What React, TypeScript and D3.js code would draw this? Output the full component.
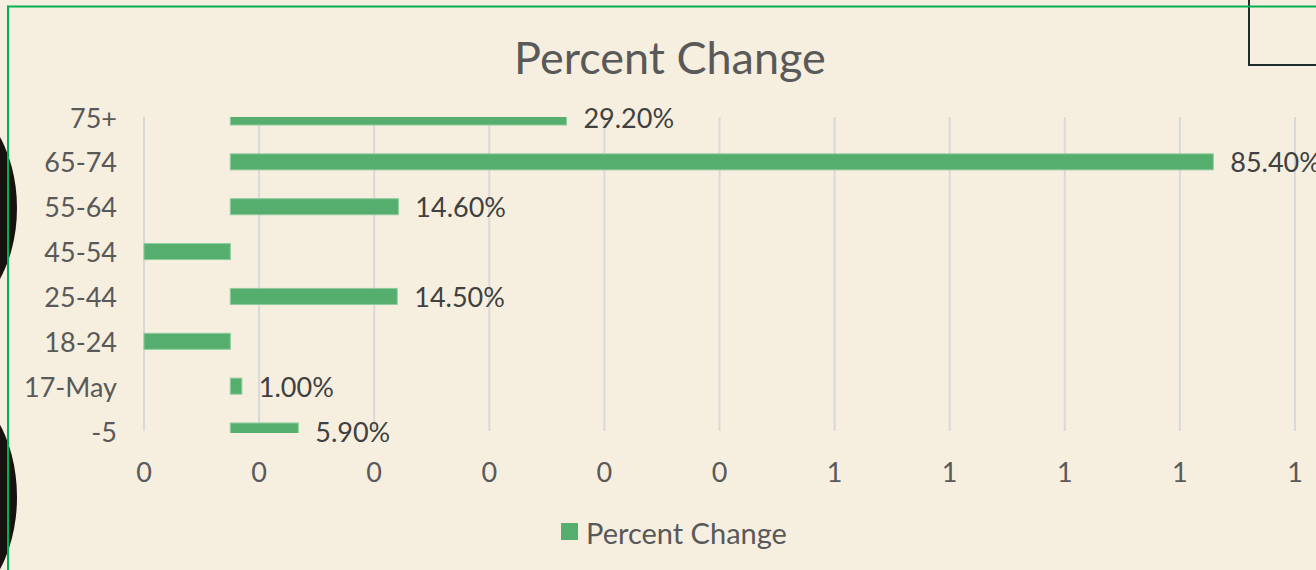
import React from "react";
import * as d3 from "d3";

const categories = ["75+", "65-74", "55-64", "45-54", "25-44", "18-24", "17-May", "-5"];
const percentChange = [0.292, 0.854, 0.146, -0.118, 0.145, -0.132, 0.01, 0.059];
const tickValues = [-0.075, 0.025, 0.125, 0.225, 0.325, 0.425, 0.525, 0.625, 0.725, 0.825, 0.925];
const tickLabels = ["0", "0", "0", "0", "0", "0", "1", "1", "1", "1", "1"];
const title = "Percent Change";
const seriesName = "Percent Change";

const W = 1316;
const H = 570;
const FONT = "Lato, 'Open Sans', sans-serif";
const BG = "#F6EFDF";
const BAR = "#55AE6E";

export default function App() {
  const plot = { left: 144, right: 1295, top: 117, bottom: 431 };
  const x = d3.scaleLinear().domain([-0.075, 0.925]).range([plot.left, plot.right]).clamp(true);
  const y = d3.scalePoint<string>().domain(categories).range([plot.top, plot.bottom]);
  const barH = 16;
  const fmt = d3.format(".2%");

  return (
    <div>
      <style>{`body{margin:0;background:${BG}}`}</style>
      <svg width={W} height={H} style={{ display: "block", fontFamily: FONT }}>
        <defs>
          <clipPath id="plotClip">
            <rect x={0} y={plot.top} width={W} height={plot.bottom - plot.top + 2} />
          </clipPath>
        </defs>
        <rect x={0} y={0} width={W} height={H} fill={BG} />
        <ellipse cx={-55} cy={208} rx={72} ry={110} fill="#151210" />
        <ellipse cx={-55} cy={497} rx={72} ry={112} fill="#151210" />
        <path d={`M1249,0 V65 H${W}`} fill="none" stroke="#1E2B2B" strokeWidth={2} />
        <path d={`M8,${H + 5} V6.5 H${W + 5}`} fill="none" stroke="#00B050" strokeWidth={2} />

        <text x={670} y={57} textAnchor="middle" dominantBaseline="central" fontSize={45} fill="#595959">
          {title}
        </text>

        {tickValues.map((t, i) => (
          <g key={i}>
            <line x1={x(t)} x2={x(t)} y1={plot.top} y2={plot.bottom} stroke="#D9D9D9" strokeWidth={2} />
            <text x={x(t)} y={471} textAnchor="middle" dominantBaseline="central" fontSize={27} fill="#595959">
              {tickLabels[i]}
            </text>
          </g>
        ))}

        <g clipPath="url(#plotClip)">
          {categories.map((c, i) => {
            const v = percentChange[i];
            const x0 = x(0);
            const x1 = x(v);
            return (
              <rect
                key={c}
                x={Math.min(x0, x1)}
                y={(y(c) as number) - barH / 2}
                width={Math.abs(x1 - x0)}
                height={barH}
                fill={BAR}
                stroke="#8CCB9C"
                strokeWidth={1}
              />
            );
          })}
        </g>

        {categories.map((c) => (
          <text key={c} x={117} y={y(c) as number} textAnchor="end" dominantBaseline="central" fontSize={27} fill="#595959">
            {c}
          </text>
        ))}

        {categories.map((c, i) => {
          const v = percentChange[i];
          if (v < x.domain()[0]) return null;
          return (
            <text key={c} x={x(v) + 17} y={y(c) as number} dominantBaseline="central" fontSize={27} fill="#404040">
              {fmt(v)}
            </text>
          );
        })}

        <rect x={561} y={523} width={17} height={17} fill={BAR} />
        <text x={586} y={532} dominantBaseline="central" fontSize={29} fill="#595959">
          {seriesName}
        </text>
      </svg>
    </div>
  );
}
